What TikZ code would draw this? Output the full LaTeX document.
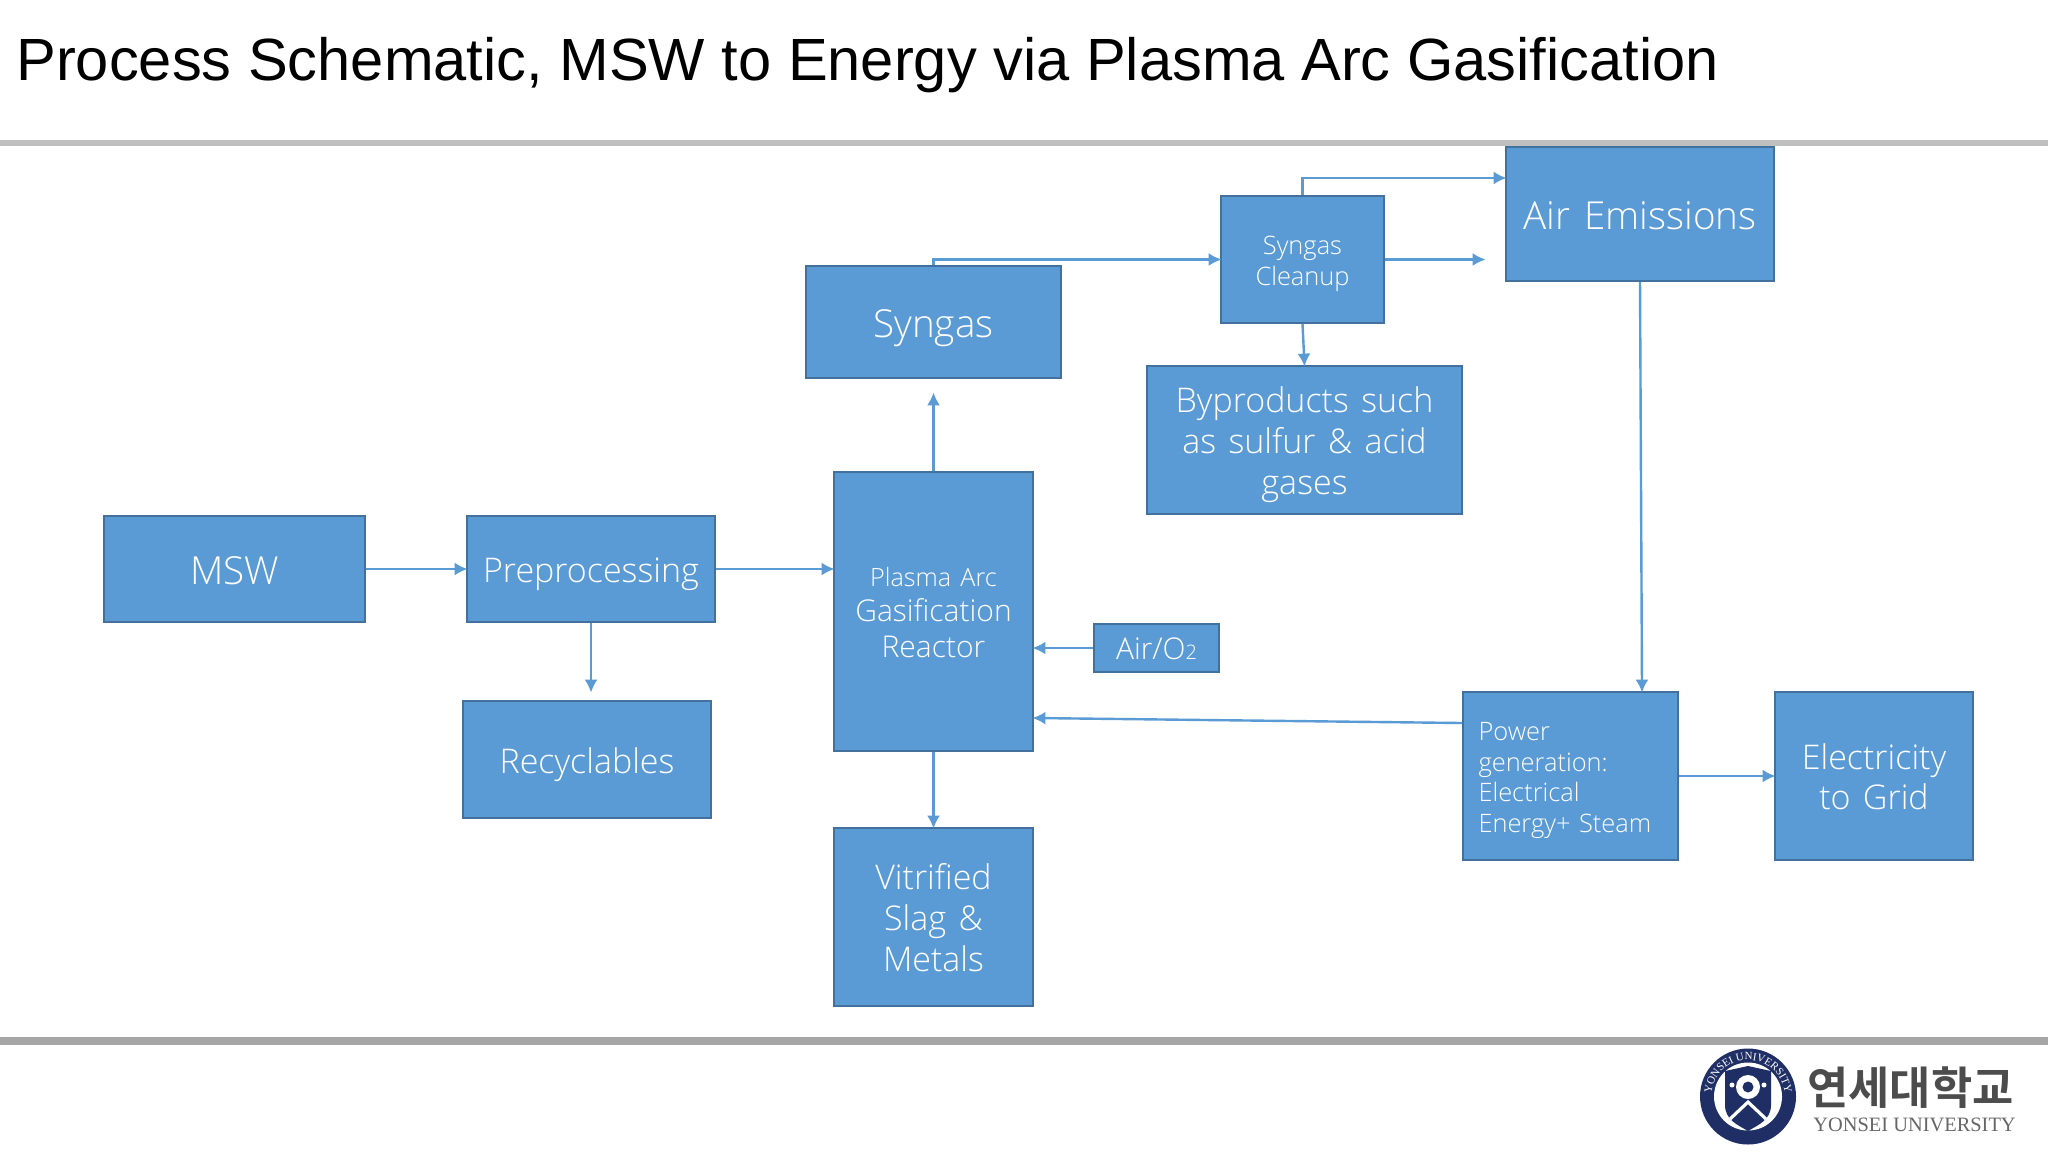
\documentclass[tikz,border=0pt]{standalone}
\usepackage{fontspec}
\setmainfont{Open Sans Light}[WordSpace=1.4]
\newfontfamily\titlefont{Liberation Sans}
\newfontfamily\serifl{Liberation Serif}
\newfontfamily\krfont{Noto Sans CJK KR}[BoldFont={* Bold}]
\usetikzlibrary{arrows.meta,decorations.text}
\definecolor{boxfill}{HTML}{5B9BD5}
\definecolor{boxedge}{HTML}{41719C}
\definecolor{navy}{HTML}{1F2F66}
\newcommand{\bigtop}{\rule{0pt}{18pt}}
\newcommand{\bigbot}{\rule[-4.5pt]{0pt}{4.5pt}}
\newcommand{\hugetop}{\rule{0pt}{20.6pt}}
\newcommand{\hugebot}{\rule[-5pt]{0pt}{5pt}}
\newcommand{\smalltop}{\rule{0pt}{14pt}}
\newcommand{\smallbot}{\rule[-3.5pt]{0pt}{3.5pt}}
\tikzset{
  box/.style={draw=boxedge,line width=1pt,fill=boxfill,text=white,inner sep=0pt,align=center},
  big/.style={font=\fontsize{17}{20.3}\selectfont},
  huge/.style={font=\fontsize{19.3}{23}\selectfont},
  small/.style={font=\fontsize{12.7}{15.2}\selectfont},
  link/.style={draw=boxfill,line width=1.2pt,shorten >=-0.8pt,-{Latex[length=6.5pt,width=6.5pt]}},
  rule/.style={line width=#1}
}
\begin{document}
\begin{tikzpicture}[x=0.5pt,y=-0.5pt]
\useasboundingbox (0,0) rectangle (2048,1152);
\fill[white] (0,0) rectangle (2048,1152);
\node[anchor=base west,inner sep=0pt,font=\titlefont\fontsize{29.8}{36}\selectfont] (title) at (16,80) {Process Schematic, MSW to Energy via Plasma Arc Gasification};
\draw[rule=3pt,draw=black!25] (0,142.5) -- (2048,142.5);
\draw[rule=4pt,draw=black!35] (0,1041) -- (2048,1041);

\node[box,huge,minimum width=130.5pt,minimum height=53pt] (msw) at (234.5,569) {\hugetop MSW\hugebot};
\node[box,big,minimum width=124pt,minimum height=53pt] (prep) at (591,569) {\bigtop Preprocessing\bigbot};
\node[box,big,minimum width=124pt,minimum height=58.5pt] (recyc) at (587,759.5) {\bigtop Recyclables\bigbot};
\node[box,minimum width=99.5pt,minimum height=139.5pt] (reactor) at (933.5,611.5) {};
\node[align=center,text=white,inner sep=0pt,font=\fontsize{15}{17.6}\selectfont] (reactortext) at (933.5,612.5) {{\fontsize{12.6}{17.6}\selectfont Plasma Arc}\\Gasification\\Reactor};
\node[box,huge,minimum width=127.5pt,minimum height=56pt] (syngas) at (933.5,322) {\hugetop Syngas\hugebot};
\node[box,small,minimum width=81.5pt,minimum height=63.5pt] (cleanup) at (1302.5,259.5) {\smalltop Syngas\\Cleanup\smallbot};
\node[box,huge,minimum width=134pt,minimum height=67pt] (air) at (1640,214) {\hugetop Air Emissions\hugebot};
\node[box,big,minimum width=157.5pt,minimum height=74pt] (byprod) at (1304.5,440) {\bigtop Byproducts such\\as sulfur \& acid\\gases\bigbot};
\node[box,font=\fontsize{15}{18}\selectfont,minimum width=62.5pt,minimum height=24pt] (airo) at (1156.5,648) {\rule{0pt}{12pt}Air/O{\fontsize{10}{10}\selectfont 2}};
\node[box,small,minimum width=107.5pt,minimum height=84pt,text width=92pt,align=left] (power) at (1570.5,776) {\smalltop Power\\generation:\\Electrical\\Energy+ Steam\smallbot};
\node[box,big,minimum width=99pt,minimum height=84pt] (elec) at (1874,776) {\bigtop Electricity\\to Grid\bigbot};
\node[box,big,minimum width=99.5pt,minimum height=89pt] (vitr) at (933.5,917) {\bigtop Vitrified\\Slag \&\\Metals\bigbot};

\coordinate (syngasgap) at (933.5,394);
\coordinate (airin) at (1505,178);
\coordinate (cleanout) at (1484,259.5);
\coordinate (prepin) at (833,569);
\coordinate (recycgap) at (591,691);
\coordinate (airoin) at (1034,648);
\coordinate (powerout) at (1462,723);
\coordinate (powerin) at (1034,718);
\coordinate (airdown) at (1642,691);

\draw[link] (msw.east) -- (prep.west);
\draw[link] (prep.east) -- (prepin);
\draw[link] (prep.south) -- (recycgap);
\draw[link] (reactor.north) -- (syngasgap);
\draw[link] (reactor.south) -- (vitr.north);
\draw[link] (syngas.north) |- (cleanup.west);
\draw[link] (cleanup.north) |- (airin);
\draw[link] (cleanup.east) -- (cleanout);
\draw[link] (cleanup.south) -- (byprod.north);
\draw[link] (air.south) -- (airdown);
\draw[link] (airo.west) -- (airoin);
\draw[link] (powerout) -- (powerin);
\draw[link] (power.east) -- (elec.west);

% logo
\fill[navy] (1748,1096.5) circle (48);
\fill[white] (1748,1096.5) circle (34);
\path[decorate,decoration={text along path,text align=center,text color=white,
  text={|\serifl\fontsize{5.5}{6}\selectfont|YONSEI UNIVERSITY}}]
  (1711.9,1102.9) arc[start angle=170,end angle=370,radius=36.7];
\fill[navy] (1725,1071) -- (1748,1066) -- (1771,1071) -- (1771,1105) .. controls (1771,1120) and (1758,1125) .. (1748,1131) .. controls (1738,1125) and (1725,1120) .. (1725,1105) -- cycle;
\fill[white] (1748,1087) circle (12);
\fill[navy] (1748,1087) circle (5.5);
\draw[white,line width=1.6pt] (1730,1119) -- (1748,1102) -- (1766,1119);
\fill[white] (1732,1085) circle (2.5) (1764,1085) circle (2.5);
\node[anchor=base west,inner sep=0pt,text=black!70,font=\krfont\bfseries\fontsize{22.4}{24}\selectfont] (krname) at (1807,1104) {연세대학교};
\node[anchor=base west,inner sep=0pt,text=black!60,font=\serifl\fontsize{10.2}{12}\selectfont] (enname) at (1813,1131) {YONSEI UNIVERSITY};
\end{tikzpicture}
\end{document}
